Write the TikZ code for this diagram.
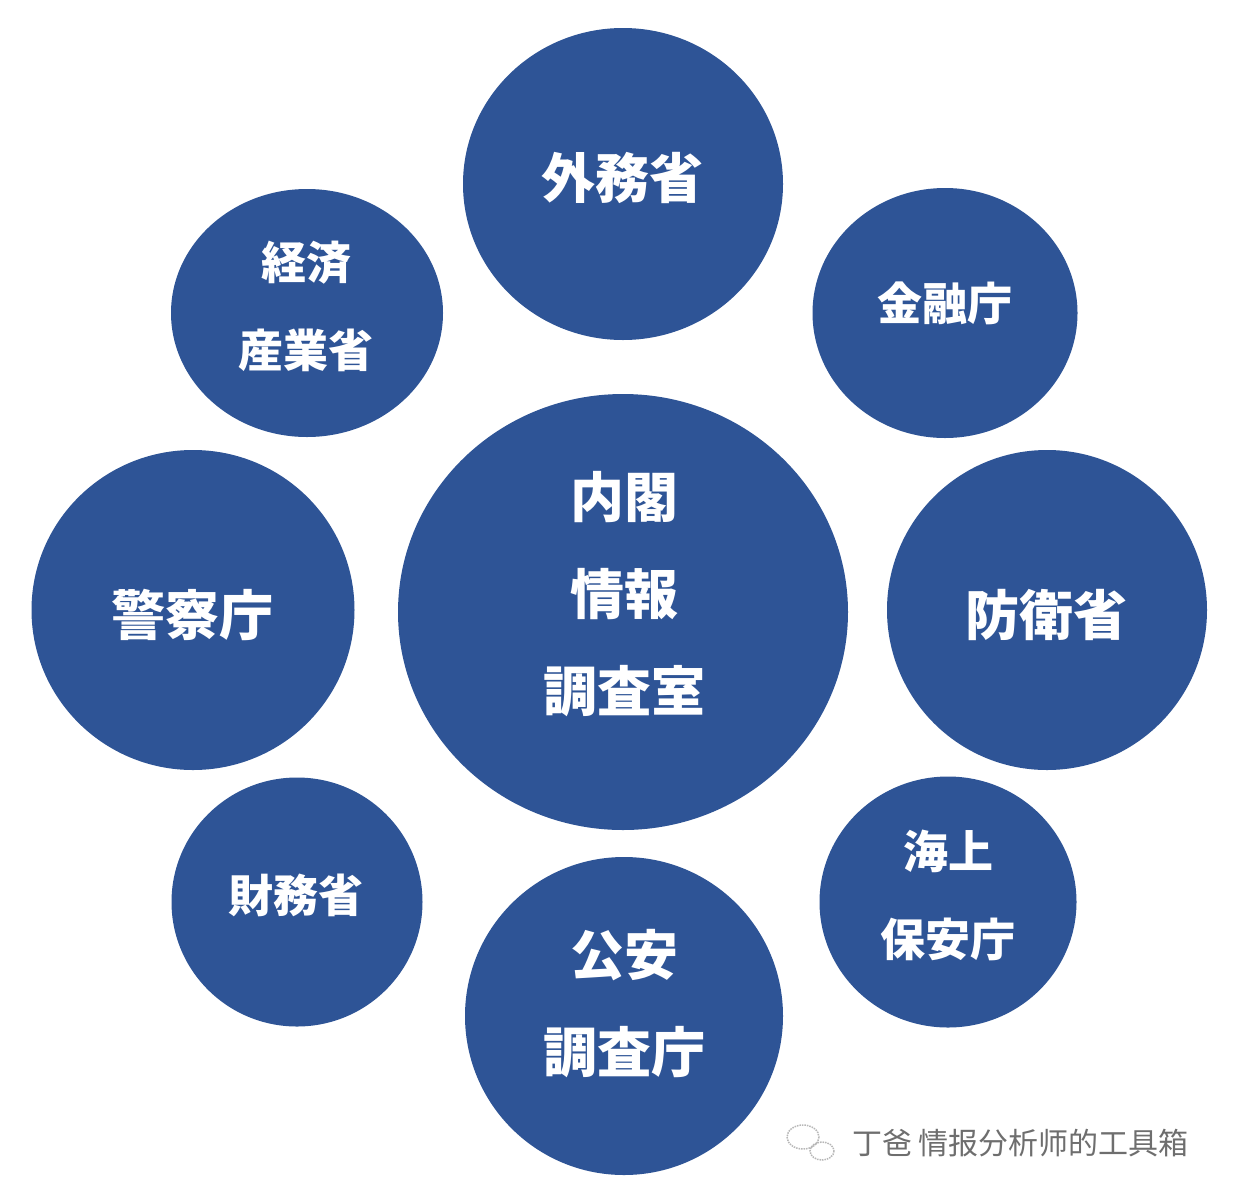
\documentclass[tikz,border=0pt]{standalone}
\usetikzlibrary{shapes.geometric}
\usepackage{fontspec}
\newfontfamily\jpfont{Noto Sans CJK JP}
\newfontfamily\scfont{Noto Sans CJK SC}
\definecolor{orgblue}{RGB}{46,84,150}
\definecolor{wmgray}{RGB}{110,110,110}
\tikzset{
  org/.style={ellipse, fill=orgblue, draw=none, inner sep=0pt},
  orgtxt/.style={text=white, align=center, inner sep=0pt},
  big/.style={font=\jpfont\bfseries\fontsize{54}{97}\selectfont},
  small/.style={font=\jpfont\bfseries\fontsize{45}{88}\selectfont},
}
\begin{document}
\begin{tikzpicture}[x=1pt,y=-1pt]
\useasboundingbox[fill=white] (0,0) rectangle (1234,1200);
% circles
\node[org, minimum width=320pt, minimum height=312pt] (gaimu) at (623,184) {};
\node[org, minimum width=272pt, minimum height=248pt] (keizai) at (307,313) {};
\node[org, minimum width=265pt, minimum height=250pt] (kinyu) at (945,313) {};
\node[org, minimum width=450pt, minimum height=436pt] (naikaku) at (623,612) {};
\node[org, minimum width=323pt, minimum height=320pt] (keisatsu) at (193,610) {};
\node[org, minimum width=320pt, minimum height=320pt] (boei) at (1047,610) {};
\node[org, minimum width=251pt, minimum height=249pt] (zaimu) at (297,902) {};
\node[org, minimum width=257pt, minimum height=251pt] (kaijo) at (948,902) {};
\node[org, minimum width=318pt, minimum height=318pt] (koan) at (624,1016) {};
% texts
\node[orgtxt, big] (tgaimu) at (622,178) {外務省};
\node[orgtxt, small] (tkeizai) at (306,306) {経済\\産業省};
\node[orgtxt, small] (tkinyu) at (945,303) {金融庁};
\node[orgtxt, big] (tnaikaku) at (624,594) {内閣\\情報\\調査室};
\node[orgtxt, big] (tkeisatsu) at (192,615) {警察庁};
\node[orgtxt, big] (tboei) at (1046,615) {防衛省};
\node[orgtxt, small] (tzaimu) at (296,895) {財務省};
\node[orgtxt, small] (tkaijo) at (948,895) {海上\\保安庁};
\node[orgtxt, big] (tkoan) at (624,1004) {公安\\調査庁};
% watermark
\draw[wmgray!50, densely dotted, line width=1.5pt] (803,1137) ellipse [x radius=16, y radius=12];
\draw[wmgray!50, densely dotted, line width=1.5pt] (822,1151) ellipse [x radius=12, y radius=9];
\node[anchor=west, inner sep=0pt, text=wmgray, font=\scfont\fontsize{30}{34}\selectfont] (wm) at (852,1143) {丁爸 情报分析师的工具箱};
\end{tikzpicture}
\end{document}
